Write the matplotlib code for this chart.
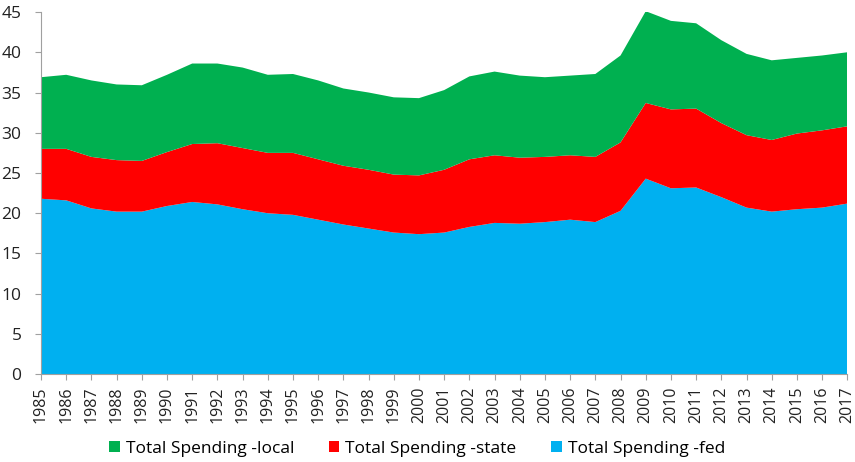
import matplotlib.pyplot as plt
import numpy as np

years = list(range(1985, 2018))

# blue top (fed), red top (fed+state), green top (total)
fed_top = [21.8, 21.6, 20.6, 20.2, 20.2, 20.9, 21.4, 21.1, 20.5, 20.0, 19.8,
           19.2, 18.6, 18.1, 17.6, 17.4, 17.6, 18.3, 18.8, 18.7, 18.9, 19.2,
           18.9, 20.3, 24.3, 23.1, 23.2, 22.0, 20.7, 20.2, 20.5, 20.7, 21.2]
state_top = [28.0, 28.0, 27.0, 26.6, 26.5, 27.6, 28.6, 28.7, 28.1, 27.5, 27.5,
             26.7, 25.9, 25.4, 24.8, 24.7, 25.4, 26.7, 27.2, 26.9, 27.0, 27.2,
             27.0, 28.8, 33.7, 32.9, 33.0, 31.2, 29.7, 29.1, 29.9, 30.3, 30.8]
total_top = [36.9, 37.2, 36.5, 36.0, 35.9, 37.2, 38.6, 38.6, 38.1, 37.2, 37.3,
             36.5, 35.5, 35.0, 34.4, 34.3, 35.3, 37.0, 37.6, 37.1, 36.9, 37.1,
             37.3, 39.6, 45.1, 43.9, 43.6, 41.5, 39.8, 39.0, 39.3, 39.6, 40.0]

fed = np.array(fed_top)
state = np.array(state_top) - fed
local = np.array(total_top) - np.array(state_top)

plt.rcParams['font.family'] = ['Open Sans', 'DejaVu Sans']

fig = plt.figure(figsize=(8.55, 4.62), dpi=100)
ax = fig.add_axes([0.048, 0.19, 0.943, 0.784])

ax.stackplot(years, fed, state, local,
             colors=['#00b0f0', '#ff0000', '#00b050'],
             labels=['Total Spending -fed', 'Total Spending -state',
                     'Total Spending -local'],
             linewidth=0)

ax.set_xlim(1985, 2017)
ax.set_ylim(0, 45)
ax.set_yticks(range(0, 46, 5))
ax.set_xticks(years)
ax.set_xticklabels([str(y) for y in years], rotation=90)
ax.tick_params(axis='both', color='#a0a0a0', length=4, labelcolor='#222222')
ax.tick_params(axis='x', labelsize=11.5, pad=5)
ax.tick_params(axis='y', labelsize=12.5, pad=10)

for side in ['top', 'right']:
    ax.spines[side].set_visible(False)
for side in ['left', 'bottom']:
    ax.spines[side].set_color('#a0a0a0')

handles, labels = ax.get_legend_handles_labels()
fig.legend(handles[::-1], labels[::-1], loc='center',
           bbox_to_anchor=(0.488, 0.028), ncol=3, frameon=False,
           fontsize=12.5, handlelength=0.6, handleheight=0.6,
           handletextpad=0.35, columnspacing=2.0)

fig.savefig('out.png', dpi=100)
